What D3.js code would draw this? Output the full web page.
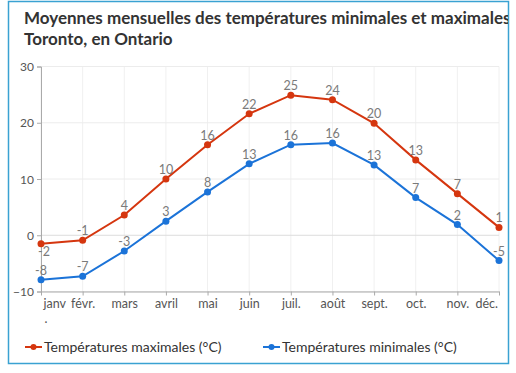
<!DOCTYPE html>
<html>
<head>
<meta charset="utf-8">
<script src="https://cdn.jsdelivr.net/npm/d3@7"></script>
<style>
	body { margin: 0; background: #fff; }
	svg { display: block; font-family: Lato, 'Open Sans', sans-serif; }
</style>
</head>
<body>
<div class="container"></div>
<script>
var months = ['janv', 'févr.', 'mars', 'avril', 'mai', 'juin', 'juil.', 'août', 'sept.', 'oct.', 'nov.', 'déc.'];
var maxTemps = [-1.5, -0.9, 3.6, 10.0, 16.1, 21.6, 24.9, 24.1, 19.9, 13.4, 7.4, 1.4];
var minTemps = [-7.9, -7.3, -2.8, 2.5, 7.7, 12.7, 16.1, 16.4, 12.5, 6.7, 1.9, -4.5];
var yTicks = [-10, 0, 10, 20, 30];
var seriesNames = ['Températures maximales (°C)', 'Températures minimales (°C)'];

var width = 516,
	height = 373,
	red = '#d5360f',
	blue = '#1b73d8';

var svg = d3.select('.container')
	.append('svg')
	.attr('width', width)
	.attr('height', height);

svg.append('clipPath')
	.attr('id', 'frame-clip')
	.append('rect')
	.attr('x', 9)
	.attr('y', 2)
	.attr('width', 499)
	.attr('height', 361);

svg.append('rect')
	.attr('x', 8.5)
	.attr('y', 1.5)
	.attr('width', 500)
	.attr('height', 362)
	.style('fill', '#fff')
	.style('stroke', '#3aa2d2')
	.style('stroke-width', 1.5);

// title, cut by the frame like in the original
var title = svg.append('g')
	.attr('clip-path', 'url(#frame-clip)');

title.append('text')
	.attr('x', 24)
	.attr('y', 24)
	.style('font-size', '17px')
	.style('font-weight', 'bold')
	.style('fill', '#333')
	.text('Moyennes mensuelles des températures minimales et maximales à');

title.append('text')
	.attr('x', 24)
	.attr('y', 45)
	.style('font-size', '17px')
	.style('font-weight', 'bold')
	.style('fill', '#333')
	.text('Toronto, en Ontario');

var x = d3.scalePoint()
	.domain(months)
	.range([41, 499]);

var y = d3.scaleLinear()
	.domain([-10, 30])
	.range([291.5, 66.5]);

var grid = svg.append('g').classed('grid', true);

grid.selectAll('.vgrid')
	.data(months)
	.enter().append('line')
	.attr('x1', function (d) { return x(d); })
	.attr('x2', function (d) { return x(d); })
	.attr('y1', y(30))
	.attr('y2', y(-10))
	.style('stroke', '#f0f0f0');

grid.selectAll('.hgrid')
	.data(yTicks)
	.enter().append('line')
	.attr('x1', x(months[0]))
	.attr('x2', x(months[11]))
	.attr('y1', function (d) { return y(d); })
	.attr('y2', function (d) { return y(d); })
	.style('stroke', function (d) { return d === 0 ? '#dcdcdc' : '#ececec'; });

var yAxis = svg.append('g')
	.attr('transform', 'translate(' + x(months[0]) + ',0)')
	.call(d3.axisLeft(y).tickValues(yTicks).tickSize(4).tickPadding(3));

var xAxis = svg.append('g')
	.attr('transform', 'translate(0,' + y(-10) + ')')
	.call(d3.axisBottom(x).tickSize(4).tickPadding(4).tickSizeOuter(0));

[yAxis, xAxis].forEach(function (axis) {
	axis.select('.domain').style('stroke', '#aaa');
	axis.selectAll('.tick line').style('stroke', '#aaa');
	axis.selectAll('.tick text')
		.style('font-family', 'Lato, sans-serif')
		.style('font-size', '12.5px')
		.style('fill', '#555');
});

yAxis.selectAll('.tick text')
	.attr('dy', '0.35em')
	.style('font-size', '12px');

// first and last month labels are kept inside the plot
xAxis.selectAll('.tick text')
	.attr('text-anchor', function (d) {
		if (d === months[0]) return 'start';
		if (d === months[months.length - 1]) return 'end';
		return 'middle';
	})
	.attr('x', function (d) {
		if (d === months[0]) return 2;
		if (d === months[months.length - 1]) return -1.5;
		return 0;
	});

// "janv." wraps onto two lines in the original
xAxis.selectAll('.tick')
	.filter(function (d) { return d === 'janv'; })
	.append('text')
	.attr('x', 3)
	.attr('y', 31)
	.style('font-family', 'Lato, sans-serif')
	.style('font-size', '12.5px')
	.style('fill', '#555')
	.attr('text-anchor', 'start')
	.text('.');

var line = d3.line()
	.x(function (d, i) { return x(months[i]); })
	.y(function (d) { return y(d); });

var fmt = function (v) { return v.toFixed(0); };

function drawSeries(values, color, name) {
	var g = svg.append('g').classed('series', true);

	g.append('path')
		.datum(values)
		.attr('d', line)
		.style('fill', 'none')
		.style('stroke', color)
		.style('stroke-width', 2);

	g.selectAll('circle')
		.data(values)
		.enter().append('circle')
		.attr('cx', function (d, i) { return x(months[i]); })
		.attr('cy', function (d) { return y(d); })
		.attr('r', 3.5)
		.style('fill', color);

	g.selectAll('.label')
		.data(values)
		.enter().append('text')
		.classed('label', true)
		.attr('x', function (d, i) {
			return x(months[i]) + (name === 'max' && i === 0 ? 3 : 0);
		})
		.attr('y', function (d, i) {
			// first max label sits under its point
			return name === 'max' && i === 0 ? y(d) + 12 : y(d) - 5;
		})
		.attr('text-anchor', 'middle')
		.style('font-size', '12.5px')
		.style('fill', '#7a7a7a')
		.text(function (d) { return fmt(d); });
}

drawSeries(maxTemps, red, 'max');
drawSeries(minTemps, blue, 'min');

// legend
var legend = svg.append('g').classed('legend', true);
var legendX = [25, 263];

legend.selectAll('g')
	.data(seriesNames)
	.enter().append('g')
	.attr('transform', function (d, i) { return 'translate(' + legendX[i] + ',347)'; })
	.each(function (d, i) {
		var node = d3.select(this),
			color = i === 0 ? red : blue;

		node.append('line')
			.attr('x1', 0)
			.attr('x2', 17)
			.style('stroke', color)
			.style('stroke-width', 2);

		node.append('circle')
			.attr('cx', 8.5)
			.attr('r', 3)
			.style('fill', color);

		node.append('text')
			.attr('x', 19)
			.attr('dy', '0.35em')
			.style('font-size', '14px')
			.style('fill', '#333')
			.text(d);
	});
</script>
</body>
</html>
